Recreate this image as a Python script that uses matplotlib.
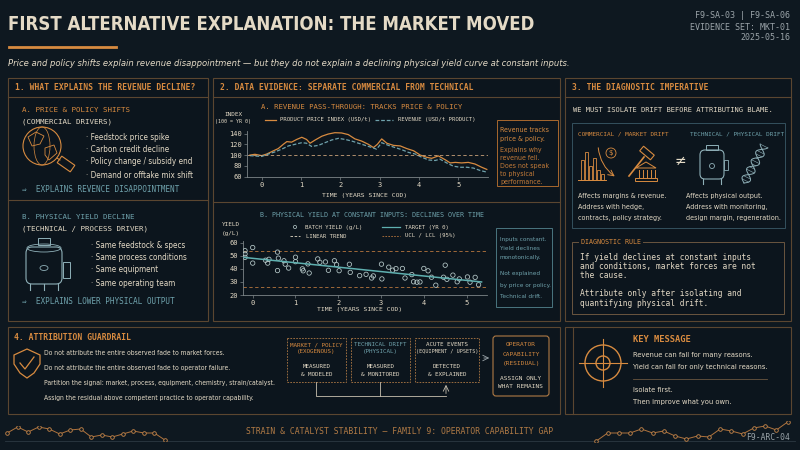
import os
import numpy as np
import matplotlib.pyplot as plt
from matplotlib import font_manager as fm
from matplotlib.font_manager import FontProperties
from matplotlib.patches import Rectangle, FancyBboxPatch, Circle, Ellipse, Polygon

# ---- data: chart A (index, 100 = yr 0)
price_t = [-0.3, -0.17, 0.0, 0.13, 0.3, 0.42, 0.55, 0.64, 0.76, 0.89, 1.02, 1.14, 1.23, 1.36,
           1.53, 1.69, 1.86, 2.03, 2.2, 2.37, 2.54, 2.71, 2.84, 2.94, 3.05, 3.18, 3.35, 3.52,
           3.69, 3.86, 4.03, 4.19, 4.32, 4.49, 4.66, 4.79, 4.92, 5.08, 5.25, 5.42, 5.59, 5.72]
price_idx = [100, 101.5, 99, 102, 108, 112, 120, 125, 124, 129, 133, 129, 122, 128,
             135, 139, 141.5, 141, 138, 130, 126, 120, 114, 120, 130, 122, 118, 117,
             112, 108, 100, 96, 94, 98.5, 91.5, 85.5, 86.5, 85.5, 86.5, 83.5, 77.5, 73.5]
rev_t = [-0.3, 0.0, 0.17, 0.34, 0.51, 0.68, 0.85, 1.02, 1.14, 1.27, 1.44, 1.61, 1.78, 1.95,
         2.12, 2.29, 2.46, 2.63, 2.8, 2.92, 3.05, 3.22, 3.39, 3.56, 3.73, 3.9, 4.07, 4.24,
         4.41, 4.53, 4.7, 4.87, 5.04, 5.21, 5.38, 5.55, 5.72]
revenue = [99, 97.5, 102, 106, 111, 117, 120, 123, 122, 116, 118, 123, 128, 131,
           129, 126, 122, 118, 114, 111, 123, 118, 114, 110, 105, 102, 96, 91,
           90, 92.5, 85.5, 79.5, 77.5, 77.5, 76, 71.5, 68.5]
ref_index = 100

# ---- data: chart B (batch yield g/L)
batch_t = [-0.18, -0.18, -0.18, 0.0, 0.0, 0.3, 0.35, 0.38, 0.58, 0.58, 0.6, 0.73, 0.76, 0.84,
           1.0, 1.0, 1.16, 1.18, 1.29, 1.32, 1.52, 1.57, 1.7, 1.77, 1.91, 1.96, 2.02, 2.26,
           2.28, 2.5, 2.65, 2.78, 2.82, 3.01, 3.02, 3.18, 3.27, 3.35, 3.5, 3.56, 3.72, 3.76,
           3.84, 3.91, 4.0, 4.1, 4.18, 4.28, 4.46, 4.5, 4.54, 4.68, 4.78, 4.83, 5.02, 5.08,
           5.2, 5.28]
batch_yield = [53.9, 51.4, 48.8, 56.3, 44.4, 46.6, 44.4, 47.3, 52.8, 38.7, 48.2, 46.2, 43.6, 40.6,
               48.9, 45.5, 40.0, 38.5, 43.8, 36.8, 47.6, 45.0, 45.3, 38.9, 46.2, 43.2, 38.6, 43.5,
               37.3, 34.8, 35.8, 33.0, 34.6, 43.6, 32.3, 41.3, 39.0, 40.2, 40.3, 33.0, 35.6, 30.1,
               29.8, 30.0, 40.3, 38.5, 33.6, 27.5, 33.6, 42.8, 32.0, 35.2, 30.1, 32.3, 33.8, 29.8,
               33.5, 27.8]
ucl, lcl = 53.5, 26.0

# ---- decorative sparklines
spark_left = [7, 13, 8, 13, 11, 6, 10, 11, 3, 5, 3, 6, 9, 7, 7, 0]
spark_right = [0, 8, 8, 8, 12, 8, 10, 5, 2, 5, 4, 12, 10, 7, 13, 15, 11, 19]

BG = '#0e1820'
PANEL = '#0c151d'
EDGE = '#5b4630'
ORANGE = '#d88b40'
DORANGE = '#c27a38'
CREAM = '#e4dac6'
TEAL = '#6fa2ac'
GREY = '#9aa3a8'
AXC = '#7d8588'
MONO = ['DejaVu Sans Mono', 'DejaVu Sans']

# a condensed sans if one is on disk, else Roboto
files = [f.fname for f in fm.fontManager.ttflist]


def pick(*keys):
    for k in keys:
        for p in files:
            if k in os.path.basename(p).lower():
                return p
    return None


NR = pick('liberationsansnarrow-regular', 'dejavusanscondensed.ttf', 'robotocondensed-regular',
          'condensed-regular', 'sansnarrow-regular')
NB = pick('liberationsansnarrow-bold.', 'dejavusanscondensed-bold.', 'robotocondensed-bold.',
          'condensed-bold.', 'sansnarrow-bold.')
NI = pick('liberationsansnarrow-italic', 'dejavusanscondensed-oblique.', 'robotocondensed-italic',
          'condensed-italic', 'sansnarrow-italic')

fig = plt.figure(figsize=(8, 4.5), dpi=100)
fig.patch.set_facecolor(BG)
ov = fig.add_axes([0, 0, 1, 1])
ov.set_xlim(0, 800)
ov.set_ylim(450, 0)
ov.axis('off')
R = fig.canvas.get_renderer()


def narrow_fp(weight, style, size):
    path = NB if weight == 'bold' else (NI if style == 'italic' else NR)
    if path:
        return FontProperties(fname=path, size=size)
    return FontProperties(family=['Roboto', 'DejaVu Sans'], weight=weight, style=style, size=size)


def box(x0, y0, x1, y1, ec=EDGE, fc=PANEL, lw=0.8, ls='-', z=1):
    ov.add_patch(Rectangle((x0, y0), x1 - x0, y1 - y0, fc=fc, ec=ec, lw=lw, ls=ls, zorder=z))


def hline(x0, x1, y, c=EDGE, lw=0.8, ls='-'):
    ov.plot([x0, x1], [y, y], color=c, lw=lw, ls=ls, zorder=2)


def txt(x, y, s, size=6, color=CREAM, fam='narrow', ha='left', va='center',
        weight='normal', style='normal', **kw):
    if fam == 'narrow':
        return ov.text(x, y, s, color=color, ha=ha, va=va, zorder=5,
                       fontproperties=narrow_fp(weight, style, size), **kw)
    return ov.text(x, y, s, fontsize=size, color=color, family=fam, ha=ha, va=va, zorder=5,
                   weight=weight, style=style, **kw)


def fit(s, w, size=8, weight='normal', style='normal'):
    # font size at which s spans w pixels
    t = txt(0, 0, s, size, weight=weight, style=style)
    cur = t.get_window_extent(R).width
    t.remove()
    return size * w / cur


def sub_axes(x0, y0, x1, y1):
    a = fig.add_axes([x0 / 800, 1 - y1 / 450, (x1 - x0) / 800, (y1 - y0) / 450])
    a.set_facecolor('none')
    return a


def rot_rect(cx, cy, w, h, ang):
    a = np.deg2rad(ang)
    pts = np.array([[-w / 2, -h / 2], [w / 2, -h / 2], [w / 2, h / 2], [-w / 2, h / 2]])
    M = np.array([[np.cos(a), -np.sin(a)], [np.sin(a), np.cos(a)]])
    return pts @ M.T + [cx, cy]


# ---- header
title = 'FIRST ALTERNATIVE EXPLANATION: THE MARKET MOVED'
txt(8, 25, title, fit(title, 527, weight='bold'), CREAM, weight='bold')
hline(9, 116, 47, ORANGE, 2)
txt(790, 15, 'F9-SA-03 | F9-SA-06', 6, GREY, MONO, ha='right')
txt(790, 27, 'EVIDENCE SET: MKT-01', 6, GREY, MONO, ha='right')
txt(790, 38, '2025-05-16', 6, GREY, MONO, ha='right')
sub = ('Price and policy shifts explain revenue disappointment \u2014 but they do not explain '
       'a declining physical yield curve at constant inputs.')
txt(8, 63, sub, fit(sub, 562, style='italic'), CREAM, style='italic')

# ---- panels
for x0, x1 in [(8, 208), (213, 560), (565, 791)]:
    box(x0, 78, x1, 321)
    hline(x0, x1, 97)
box(8, 327, 560, 414)
box(565, 327, 791, 414)
ov.plot([573, 573], [327, 414], color=EDGE, lw=0.8, zorder=2)

# ---- panel 1
txt(15, 88, '1. WHAT EXPLAINS THE REVENUE DECLINE?', 5.8, ORANGE, MONO, weight='bold')
txt(22, 110, 'A. PRICE & POLICY SHIFTS', 5.4, ORANGE, MONO)
txt(22, 122, '(COMMERCIAL DRIVERS)', 5.4, CREAM, MONO)
bul_a = ['Feedstock price spike', 'Carbon credit decline', 'Policy change / subsidy end',
         'Demand or offtake mix shift']
fs = fit('\u00b7 ' + bul_a[3], 107)
for y, s in zip([138, 150, 162, 175], bul_a):
    txt(86, y, '\u00b7 ' + s, fs, CREAM)
txt(22, 190, '\u21d2  EXPLAINS REVENCE DISAPPOINTMENT', 5.6, TEAL, MONO)
hline(8, 208, 200)
txt(22, 217, 'B. PHYSICAL YIELD DECLINE', 5.4, TEAL, MONO)
txt(22, 229, '(TECHNICAL / PROCESS DRIVER)', 5.4, CREAM, MONO)
bul_b = ['Same feedstock & specs', 'Same process conditions', 'Same equipment', 'Same operating team']
for y, s in zip([245, 257, 270, 283], bul_b):
    txt(91, y, '\u00b7 ' + s, fs, CREAM)
txt(22, 301, '\u21d2  EXPLAINS LOWER PHYSICAL OUTPUT', 5.6, TEAL, MONO)

# globe icon
ov.add_patch(Circle((42, 146), 19, fill=False, ec=ORANGE, lw=0.8, zorder=3))
ov.add_patch(Ellipse((42, 146), 16, 38, fill=False, ec=ORANGE, lw=0.5, zorder=3))
ov.add_patch(Polygon([[28, 137], [36, 132], [44, 136], [40, 144], [32, 146]], fill=False,
                     ec=ORANGE, lw=0.6, zorder=3))
ov.add_patch(Polygon([[45, 148], [54, 145], [57, 153], [49, 160], [45, 155]], fill=False,
                     ec=ORANGE, lw=0.6, zorder=3))
ov.add_patch(Polygon(rot_rect(66, 164, 16, 8, 35), fill=False, ec=ORANGE, lw=0.8, zorder=3))
ov.plot([57, 60], [158, 160], color=ORANGE, lw=0.7, zorder=3)

# tank icon (panel 1)
TK = '#8fb0b8'
ov.add_patch(FancyBboxPatch((26, 247), 36, 37, boxstyle='round,pad=0,rounding_size=6',
                            fill=False, ec=TK, lw=0.8, zorder=3))
ov.add_patch(Ellipse((44, 248), 34, 8, fill=False, ec=TK, lw=0.6, zorder=3))
ov.add_patch(Rectangle((38, 238), 12, 7, fill=False, ec=TK, lw=0.7, zorder=3))
ov.add_patch(Rectangle((63, 262), 7, 16, fill=False, ec=TK, lw=0.7, zorder=3))
ov.add_patch(Ellipse((44, 268), 8, 5, fill=False, ec=TK, lw=0.6, zorder=3))
for lx in [30, 44, 58]:
    ov.plot([lx, lx], [284, 290], color=TK, lw=0.8, zorder=3)

# ---- panel 2
txt(220, 88, '2. DATA EVIDENCE: SEPARATE COMMERCIAL FROM TECHNICAL', 5.8, ORANGE, MONO, weight='bold')
txt(362, 107, 'A. REVENUE PASS-THROUGH: TRACKS PRICE & POLICY', 5.2, ORANGE, MONO, ha='center')
txt(233, 115, 'INDEX', 4.3, CREAM, MONO, ha='center')
txt(233, 122, '(100 = YR 0)', 3.6, CREAM, MONO, ha='center')
hline(265, 276, 120, ORANGE, 0.9)
txt(280, 120, 'PRODUCT PRICE INDEX (USD/t)', 4.1, CREAM, MONO)
hline(375, 393, 120, TEAL, 0.9, (0, (3, 1.5)))
txt(398, 120, 'REVENUE (USD/t PRODUCT)', 4.1, CREAM, MONO)

axA = sub_axes(246.7, 130.8, 488, 176.7)
axA.plot(price_t, price_idx, color=ORANGE, lw=0.9)
axA.plot(rev_t, revenue, color=TEAL, lw=0.9, ls=(0, (3, 1.5)))
axA.axhline(ref_index, color='#c9a27a', lw=0.6, ls=(0, (4, 3)))
axA.set_xlim(-0.38, 5.75)
axA.set_ylim(60, 145)
axA.set_yticks([60, 80, 100, 120, 140])
axA.set_xticks(range(6))

axB = sub_axes(242.7, 241.4, 486.7, 295)
axB.axhline(ucl, color='#b8773e', lw=0.6, ls=(0, (4, 3)))
axB.axhline(lcl, color='#b8773e', lw=0.6, ls=(0, (4, 3)))
axB.scatter(batch_t, batch_yield, s=10, facecolors='none', edgecolors='#b9cccc', lw=0.55, zorder=3)
fit_b = np.polyfit(batch_t, batch_yield, 1)
tt = np.array([-0.2, 5.35])
axB.plot(tt, np.polyval(fit_b, tt), color='#5fb0b0', lw=1.1, zorder=4)
axB.set_xlim(-0.234, 5.47)
axB.set_ylim(20, 61)
axB.set_yticks([20, 30, 40, 50, 60])
axB.set_xticks(range(6))

for a in (axA, axB):
    for sp in ['top', 'right']:
        a.spines[sp].set_visible(False)
    for sp in ['left', 'bottom']:
        a.spines[sp].set_color(AXC)
        a.spines[sp].set_linewidth(0.6)
    a.tick_params(colors=AXC, length=2, width=0.5, pad=1.5, labelsize=5, labelcolor=CREAM)
    for lab in a.get_xticklabels() + a.get_yticklabels():
        lab.set_family(MONO)

txt(365, 195, 'TIME (YEARS SINCE COD)', 4.6, CREAM, MONO, ha='center')

# note A
box(497, 120, 558, 186, ec='#a8682e', fc=PANEL, lw=0.7, z=3)
fs = fit('Does not speak', 49)
for y, s, c in zip([130, 139, 150, 158, 166, 174, 182],
                   ['Revenue tracks', 'price & policy.', 'Explains why', 'revenue fell.',
                    'Does not speak', 'to physical', 'performance.'],
                   [ORANGE, ORANGE] + [DORANGE] * 5):
    txt(500, y, s, fs, c)

hline(213, 560, 202)
txt(372, 215, 'B. PHYSICAL YIELD AT CONSTANT INPUTS: DECLINES OVER TIME', 4.8, TEAL, MONO, ha='center')
txt(231, 224, 'YIELD', 4.3, CREAM, MONO, ha='center')
txt(231, 233, '(g/L)', 4.3, CREAM, MONO, ha='center')
ov.add_patch(Circle((295, 227), 1.6, fill=False, ec='#b9cccc', lw=0.5, zorder=4))
txt(305, 227, 'BATCH YIELD (g/L)', 4.1, CREAM, MONO)
hline(382, 400, 227, '#5fb0b0', 0.9)
txt(405, 227, 'TARGET (YR 0)', 4.1, CREAM, MONO)
hline(290, 300, 236, CREAM, 0.6, (0, (3, 2)))
txt(306, 236, 'LINEAR TREND', 4.1, CREAM, MONO)
hline(382, 400, 236, '#b8773e', 0.6, (0, (2, 1.5)))
txt(405, 236, 'UCL / LCL (95%)', 4.1, CREAM, MONO)
txt(360, 309, 'TIME (YEARS SINCE COD)', 4.6, CREAM, MONO, ha='center')

# note B
box(496, 228, 552, 307, ec='#4a7580', fc=PANEL, lw=0.7, z=3)
fs = fit('by price or policy.', 50)
for y, s in zip([239, 248, 257, 274, 285, 297],
                ['Inputs constant.', 'Yield declines', 'monotonically.', 'Not explained',
                 'by price or policy.', 'Technical drift.']):
    txt(500, y, s, fs, TEAL)

# ---- panel 3
txt(572, 88, '3. THE DIAGNOSTIC IMPERATIVE', 5.8, ORANGE, MONO, weight='bold')
txt(573, 110, 'WE MUST ISOLATE DRIFT BEFORE ATTRIBUTING BLAME.', 5.1, CREAM, MONO)
box(572, 123, 785, 228, ec='#34505e', fc=PANEL, lw=0.7, z=2)
txt(578, 134, 'COMMERCIAL / MARKET DRIFT', 4.3, ORANGE, MONO)
txt(690, 134, 'TECHNICAL / PHYSICAL DRIFT', 4.3, TEAL, MONO)
left3 = ['Affects margins & revenue.', 'Address with hedge,', 'contracts, policy strategy.']
right3 = ['Affects physical output.', 'Address with monitoring,', 'design margin, regeneration.']
fs = min(fit(left3[2], 86), fit(right3[2], 93))
for y, a, b in zip([196, 207, 218], left3, right3):
    txt(578, y, a, fs, CREAM)
    txt(686, y, b, fs, CREAM)
txt(680, 161, '\u2260', 10, CREAM, ['DejaVu Sans'], ha='center')

# market icons
for bx, top in zip([581, 585, 589, 593, 597, 601], [160, 152, 166, 158, 170, 174]):
    ov.add_patch(Rectangle((bx, top), 3, 180 - top, fill=False, ec=ORANGE, lw=0.6, zorder=3))
hline(578, 606, 180, ORANGE, 0.7)
ov.annotate('', xy=(617, 178), xytext=(598, 145),
            arrowprops=dict(arrowstyle='->', color=ORANGE, lw=0.7, connectionstyle='arc3,rad=0.25'))
ov.add_patch(Circle((611, 153), 5, fill=False, ec=ORANGE, lw=0.6, zorder=3))
txt(611, 153, '$', 5, ORANGE, ['DejaVu Sans'], ha='center')
ov.plot([629, 644], [176, 157], color=ORANGE, lw=1.2, zorder=3)
ov.add_patch(Polygon(rot_rect(647, 153, 14, 6, 40), fill=False, ec=ORANGE, lw=0.8, zorder=3))
ov.add_patch(Polygon([[636, 168], [646, 162], [656, 168]], fill=False, ec=ORANGE, lw=0.7, zorder=3))
for cx in [639, 643, 647, 651, 655]:
    ov.plot([cx, cx], [170, 177], color=ORANGE, lw=0.7, zorder=3)
ov.add_patch(Rectangle((635, 178), 22, 3, fill=False, ec=ORANGE, lw=0.7, zorder=3))

# technical icons
ov.add_patch(FancyBboxPatch((700, 150), 24, 29, boxstyle='round,pad=0,rounding_size=5',
                            fill=False, ec=TK, lw=0.8, zorder=3))
ov.add_patch(Rectangle((706, 145), 12, 5, fill=False, ec=TK, lw=0.7, zorder=3))
ov.add_patch(Circle((712, 166), 2.5, fill=False, ec=TK, lw=0.6, zorder=3))
ov.add_patch(Rectangle((724, 160), 4, 10, fill=False, ec=TK, lw=0.6, zorder=3))
for lx in [703, 721]:
    ov.plot([lx, lx], [179, 184], color=TK, lw=0.8, zorder=3)
sx = np.linspace(0, 1, 60)
px = 744 + 20 * sx
py = 183 - 37 * sx
off = 4 * np.sin(2 * np.pi * 2.2 * sx)
ov.plot(px + off, py + off * 0.5, color=TK, lw=0.7, zorder=3)
ov.plot(px - off, py - off * 0.5, color=TK, lw=0.7, zorder=3)
for k in range(4, 60, 5):
    ov.plot([px[k] + off[k], px[k] - off[k]], [py[k] + off[k] * 0.5, py[k] - off[k] * 0.5],
            color=TK, lw=0.4, zorder=3)

# diagnostic rule
box(572, 242, 784, 314, ec='#6a5640', fc=PANEL, lw=0.7, z=2)
txt(581, 242, 'DIAGNOSTIC RULE', 4.8, ORANGE, MONO, bbox=dict(fc=PANEL, ec='none', pad=1.5))
for y, s in zip([257, 266, 276, 293, 303],
                ['If yield declines at constant inputs', 'and conditions, market forces are not',
                 'the cause.', 'Attribute only after isolating and', 'quantifying physical drift.']):
    txt(580, y, s, 5.7, CREAM, MONO)

# ---- panel 4
txt(14, 338, '4. ATTRIBUTION GUARDRAIL', 5.8, ORANGE, MONO, weight='bold')
ov.add_patch(Polygon([[14, 355], [27, 349], [40, 355], [40, 364], [34, 373], [27, 378],
                      [20, 373], [14, 364]], fill=False, ec=ORANGE, lw=0.9, zorder=3))
ov.plot([20, 25, 34], [363, 369, 357], color=ORANGE, lw=0.9, zorder=3)
guard = ['Do not attribute the entire observed fade to market forces.',
         'Do not attribute the entire observed fade to operator failure.',
         'Partition the signal: market, process, equipment, chemistry, strain/catalyst.',
         'Assign the residual above competent practice to operator capability.']
fs = fit(guard[2], 231)
for y, s in zip([353, 368, 383, 398], guard):
    txt(44, y, s, fs, CREAM)

flow = [(287, 346, 'MARKET / POLICY', '(EXOGENOUS)', ORANGE, 'MEASURED', '& MODELED'),
        (351, 410, 'TECHNICAL DRIFT', '(PHYSICAL)', TEAL, 'MEASURED', '& MONITORED'),
        (415, 479, 'ACUTE EVENTS', '(EQUIPMENT / UPSETS)', CREAM, 'DETECTED', '& EXPLAINED')]
for x0, x1, a, b, c, d, e in flow:
    box(x0, 338, x1, 382, ec='#b07a45', fc=PANEL, lw=0.6, ls=(0, (2, 1.5)), z=2)
    cx = (x0 + x1) / 2
    txt(cx, 345, a, 4.2, c, MONO, ha='center')
    txt(cx, 352, b, 3.7 if len(b) > 14 else 4.2, c, MONO, ha='center')
    txt(cx, 366, d, 4.2, CREAM, MONO, ha='center')
    txt(cx, 374, e, 4.2, CREAM, MONO, ha='center')
ov.annotate('', xy=(492, 358), xytext=(481, 358),
            arrowprops=dict(arrowstyle='->', color=GREY, lw=0.6))
ov.add_patch(FancyBboxPatch((493, 336), 56, 60, boxstyle='round,pad=0,rounding_size=3',
                            fc=PANEL, ec='#b07a45', lw=0.8, zorder=2))
for y, s, c in [(345, 'OPERATOR', ORANGE), (354, 'CAPABILITY', ORANGE), (363, '(RESIDUAL)', ORANGE),
                (378, 'ASSIGN ONLY', CREAM), (387, 'WHAT REMAINS', CREAM)]:
    txt(521, y, s, 4.4, c, MONO, ha='center')
ov.plot([316, 316, 446], [382, 396, 396], color='#c8c0b0', lw=0.6, zorder=2)
ov.plot([380, 380], [382, 396], color='#c8c0b0', lw=0.6, zorder=2)
ov.annotate('', xy=(446, 382), xytext=(446, 396.3),
            arrowprops=dict(arrowstyle='->', color='#c8c0b0', lw=0.6))

# ---- panel 5
ov.add_patch(Circle((603, 363), 18, fill=False, ec=ORANGE, lw=1.0, zorder=3))
ov.add_patch(Circle((603, 363), 7, fill=False, ec=ORANGE, lw=1.0, zorder=3))
ov.plot([579, 627], [363, 363], color=ORANGE, lw=0.8, zorder=3)
ov.plot([603, 603], [339, 387], color=ORANGE, lw=0.8, zorder=3)
txt(633, 339, 'KEY MESSAGE', 6.3, ORANGE, MONO, weight='bold')
fs = fit('Yield can fall for only technical reasons.', 134)
txt(633, 355, 'Revenue can fall for many reasons.', fs, CREAM)
txt(633, 367, 'Yield can fall for only technical reasons.', fs, CREAM)
hline(633, 767, 379, '#6a5640', 0.6)
txt(633, 390, 'Isolate first.', fs, CREAM)
txt(633, 402, 'Then improve what you own.', fs, CREAM)

# ---- footer
txt(400, 432, 'STRAIN & CATALYST STABILITY \u2014 FAMILY 9: OPERATOR CAPABILITY GAP', 5.9,
    '#b07a45', MONO, ha='center')
hline(5, 795, 441, '#2c3942', 0.6)
txt(790, 438, 'F9-ARC-04', 5.8, GREY, MONO, ha='right')
for (x0, x1, y0, y1), vals in [((4, 168, 426, 441), spark_left), ((593, 791, 421, 442), spark_right)]:
    sa = sub_axes(x0, y0, x1, y1)
    sa.plot(range(len(vals)), vals, color='#b0743e', lw=0.7, marker='o', ms=2.6,
            mfc=BG, mec='#c8874a', mew=0.6)
    sa.set_xlim(-0.3, len(vals) - 0.7)
    sa.set_ylim(-1, max(vals) + 1)
    sa.axis('off')

fig.savefig('out.png', dpi=100, facecolor=BG)
